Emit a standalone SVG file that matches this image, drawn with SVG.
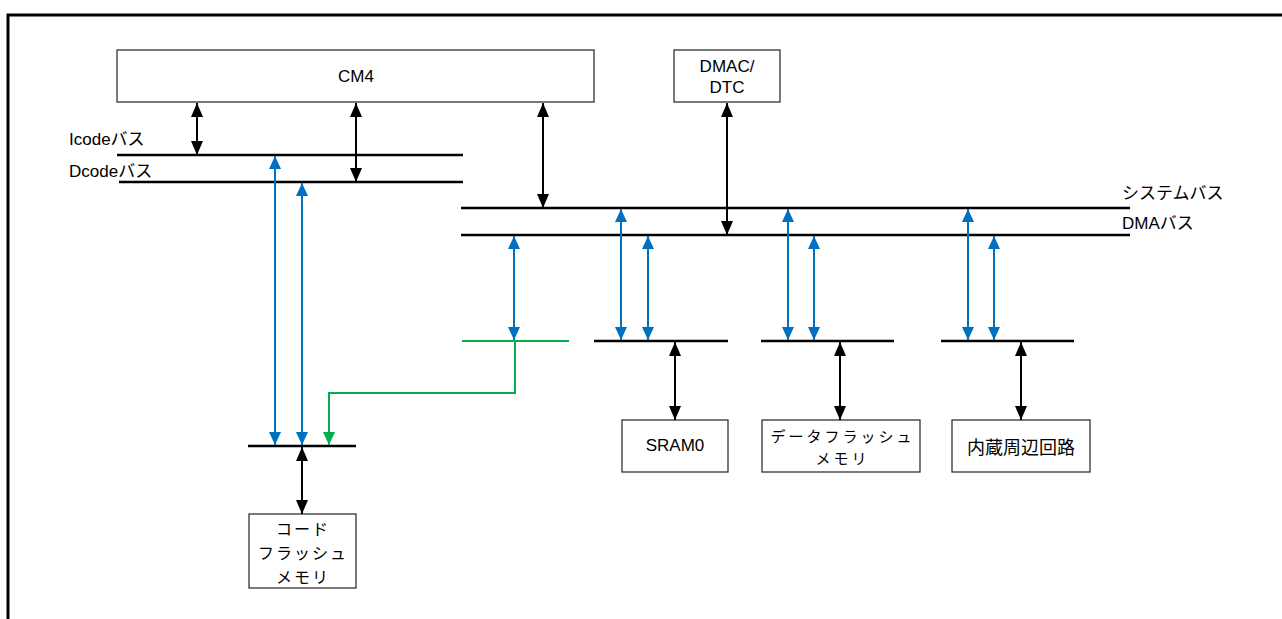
<svg xmlns="http://www.w3.org/2000/svg" width="1282" height="619" viewBox="0 0 1282 619">
<style>
.box{fill:#fff;stroke:#222;stroke-width:1.2}
.bus{stroke:#000;stroke-width:2.5;fill:none}
.t{font-family:"Liberation Sans","Noto Sans CJK JP",sans-serif;font-size:17px;fill:#000}
.j{font-family:"Noto Sans CJK JP","Liberation Sans",sans-serif;font-size:18px;fill:#000}
.j16{font-family:"Noto Sans CJK JP","Liberation Sans",sans-serif;font-size:16px;letter-spacing:2px;fill:#000}
.j15{font-family:"Noto Sans CJK JP","Liberation Sans",sans-serif;font-size:15px;letter-spacing:3px;fill:#000}
.c{text-anchor:middle;dominant-baseline:central}
.bk{stroke:#000;stroke-width:2;fill:none;marker-start:url(#ak);marker-end:url(#ak)}
.bl{stroke:#0070C0;stroke-width:2;fill:none;marker-start:url(#ab);marker-end:url(#ab)}
.gr{stroke:#00B050;stroke-width:2;fill:none}
</style>
<defs>
<marker id="ak" markerUnits="userSpaceOnUse" markerWidth="14" markerHeight="12" viewBox="0 0 14 12" refX="14" refY="6" orient="auto-start-reverse"><path d="M0,0 L14,6 L0,12 Z" fill="#000"/></marker>
<marker id="ab" markerUnits="userSpaceOnUse" markerWidth="13" markerHeight="12" viewBox="0 0 13 12" refX="13" refY="6" orient="auto-start-reverse"><path d="M0,0 L13,6 L0,12 Z" fill="#0070C0"/></marker>
<marker id="ag" markerUnits="userSpaceOnUse" markerWidth="13" markerHeight="12" viewBox="0 0 13 12" refX="13" refY="6" orient="auto"><path d="M0,0 L13,6 L0,12 Z" fill="#00B050"/></marker>
</defs>
<rect width="1282" height="619" fill="#fff"/>
<path d="M8,619 V15 H1282" stroke="#000" stroke-width="3" fill="none"/>

<g id="cm4"><rect class="box" x="117" y="50" width="477" height="52"/><text class="t c" x="356" y="76">CM4</text></g>
<g id="dmac"><rect class="box" x="674" y="50" width="106" height="52"/><text class="t c" x="727" y="66">DMAC/</text><text class="t c" x="727" y="87">DTC</text></g>
<g id="icode-bus"><line class="bus" x1="117" y1="155" x2="463" y2="155"/><text class="t" x="69" y="145">Icodeバス</text></g>
<g id="dcode-bus"><line class="bus" x1="119" y1="182" x2="463" y2="182"/><text class="t" x="69" y="177">Dcodeバス</text></g>
<g id="system-bus"><line class="bus" x1="461" y1="208" x2="1130" y2="208"/><text class="t" x="1122" y="199">システムバス</text></g>
<g id="dma-bus"><line class="bus" x1="461" y1="235" x2="1130" y2="235"/><text class="t" x="1122" y="229">DMAバス</text></g>
<g id="green-bus"><line class="gr" x1="462" y1="341" x2="569" y2="341"/></g>
<g id="sram-bus"><line class="bus" x1="594" y1="341" x2="728" y2="341"/></g>
<g id="df-bus"><line class="bus" x1="761" y1="341" x2="894" y2="341"/></g>
<g id="per-bus"><line class="bus" x1="941" y1="341" x2="1074" y2="341"/></g>
<g id="cf-bus"><line class="bus" x1="248" y1="446" x2="356" y2="446"/></g>
<g id="sram0"><rect class="box" x="622" y="420" width="106" height="52"/><text class="t c" x="675" y="445">SRAM0</text></g>
<g id="dataflash"><rect class="box" x="762" y="420" width="158" height="52"/><text class="j15 c" x="842.5" y="435">データフラッシュ</text><text class="j15 c" x="842.5" y="457">メモリ</text></g>
<g id="peripheral"><rect class="box" x="952" y="420" width="138" height="52"/><text class="j c" x="1021" y="446">内蔵周辺回路</text></g>
<g id="codeflash"><rect class="box" x="249" y="514" width="107" height="74"/><text class="j16 c" x="303" y="528">コード</text><text class="j16 c" x="303" y="552">フラッシュ</text><text class="j16 c" x="303" y="576">メモリ</text></g>

<g id="connectors">
<line class="bk" x1="197" y1="103" x2="197" y2="155"/>
<line class="bk" x1="356" y1="103" x2="356" y2="182"/>
<line class="bk" x1="543" y1="103" x2="543" y2="208"/>
<line class="bk" x1="727" y1="103" x2="727" y2="235"/>
<line class="bk" x1="675" y1="342" x2="675" y2="420"/>
<line class="bk" x1="840" y1="342" x2="840" y2="420"/>
<line class="bk" x1="1021" y1="342" x2="1021" y2="420"/>
<line class="bk" x1="302" y1="447" x2="302" y2="514"/>
<line class="bl" x1="275" y1="156" x2="275" y2="445"/>
<line class="bl" x1="302" y1="183" x2="302" y2="445"/>
<line class="bl" x1="514" y1="236" x2="514" y2="340"/>
<line class="bl" x1="621" y1="209" x2="621" y2="340"/>
<line class="bl" x1="648" y1="236" x2="648" y2="340"/>
<line class="bl" x1="788" y1="209" x2="788" y2="340"/>
<line class="bl" x1="814" y1="236" x2="814" y2="340"/>
<line class="bl" x1="968" y1="209" x2="968" y2="340"/>
<line class="bl" x1="994" y1="236" x2="994" y2="340"/>
<polyline class="gr" points="515,341 515,393 329,393 329,445" marker-end="url(#ag)"/>
</g>
</svg>
